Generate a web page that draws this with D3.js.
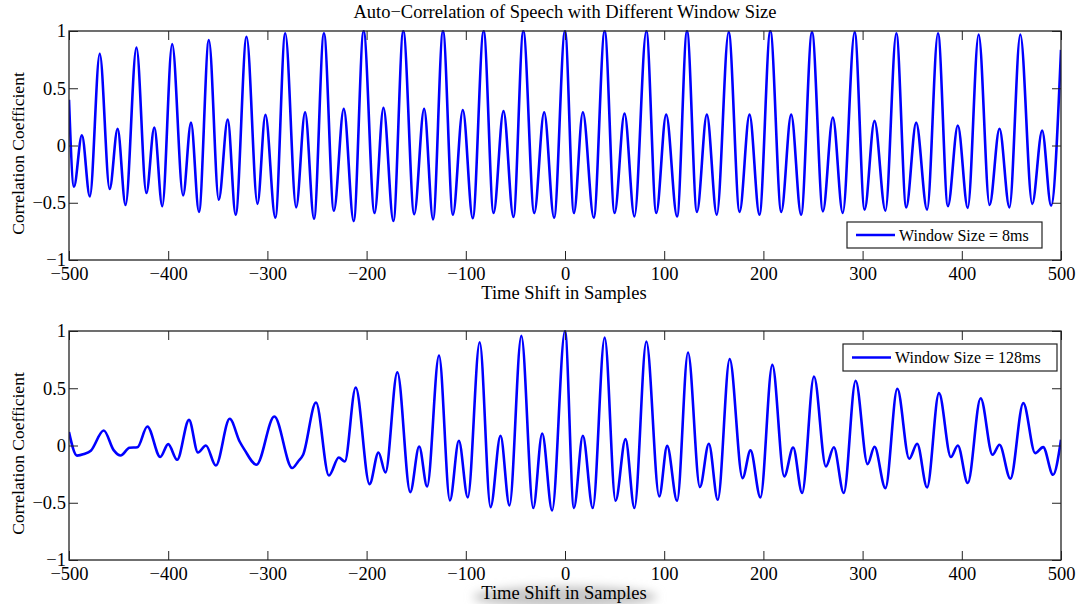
<!DOCTYPE html>
<html>
<head>
<meta charset="utf-8">
<script src="https://cdn.jsdelivr.net/npm/d3@7/dist/d3.min.js"></script>
<style>
  html, body { margin: 0; padding: 0; background: #fff; }
  svg { display: block; }
  text { font-family: "Liberation Serif", "Times New Roman", serif; fill: #000; }
</style>
</head>
<body>
<svg id="chart" width="1078" height="604"></svg>
<script>
// Autocorrelation extrema (lag in samples, correlation coefficient)
const lags8 = [-500,-495,-487,-479,-469,-459,-451,-443,-432,-422,-414,-406,-396,-385,-377,-369,
  -359,-349,-340,-332,-321,-310,-302,-292,-282,-271,-262,-253,-243,-233,-223,-213,-203,-192,-183,-173,
  -163,-152,-142,-133,-123,-113,-103,-93,-82,-72,-62,-52,-42,-31,-21,-11,0,9,18,29,40,50,60,70,
  82,92,102,113,123,133,143,153,165,176,186,196,207,218,228,238,249,260,270,280,292,302,312,323,
  334,344,354,365,376,386,396,406,417,428,438,448,459,471,481,490,500];
const vals8 = [0.40,-0.36,0.09,-0.445,0.80,-0.38,0.146,-0.52,0.855,-0.415,0.157,-0.53,0.885,-0.436,0.20,-0.58,
  0.92,-0.474,0.227,-0.605,0.95,-0.51,0.268,-0.63,0.98,-0.54,0.29,-0.64,0.98,-0.57,0.32,-0.66,1.0,-0.59,0.33,-0.66,
  1.0,-0.60,0.32,-0.645,1.0,-0.605,0.31,-0.635,1.0,-0.59,0.30,-0.625,1.0,-0.59,0.29,-0.63,1.0,-0.59,0.29,-0.63,
  1.0,-0.59,0.28,-0.62,1.0,-0.59,0.27,-0.62,1.0,-0.58,0.27,-0.605,0.99,-0.58,0.27,-0.605,1.0,-0.58,0.27,-0.605,
  0.99,-0.575,0.245,-0.59,0.99,-0.56,0.215,-0.57,0.98,-0.54,0.20,-0.56,0.98,-0.53,0.175,-0.545,0.97,-0.52,0.146,-0.54,
  0.97,-0.51,0.13,-0.525,0.835];

const lags128 = [-500,-492,-485,-478,-465,-455,-448,-439,-431,-421,-408,-400,-391,-379,-370,-362,-352,
  -338,-328,-323,-311,-293,-275,-269,-264,-251,-238,-228,-222,-211,-197,-188,-181,-169,-156,-147,-139,
  -127,-116,-107,-98,-86,-75,-65,-56,-44,-32,-23,-13,0,9,18,28,40,51,61,70,82,95,103,113,124,136,145,154,
  166,179,187,197,209,221,230,239,251,263,271,281,293,305,312,323,335,347,355,365,377,389,396,406,
  419,431,438,449,462,474,482,492,500];
const vals128 = [0.117,-0.088,-0.075,-0.045,0.131,-0.04,-0.087,-0.02,-0.015,0.166,-0.10,0.012,-0.125,0.224,-0.061,0.0,-0.175,
  0.233,0.035,-0.038,-0.168,0.253,-0.197,-0.14,-0.081,0.375,-0.262,-0.105,-0.14,0.506,-0.337,-0.061,-0.236,0.64,-0.407,-0.009,-0.358,
  0.785,-0.48,0.041,-0.454,0.902,-0.538,0.085,-0.524,0.957,-0.546,0.105,-0.567,1.0,-0.546,0.085,-0.546,0.942,-0.483,0.056,-0.546,
  0.908,-0.445,-0.003,-0.483,0.812,-0.363,0.015,-0.474,0.754,-0.285,-0.043,-0.454,0.704,-0.27,-0.017,-0.415,0.602,-0.183,-0.015,-0.415,
  0.565,-0.163,-0.011,-0.372,0.495,-0.116,0.015,-0.366,0.457,-0.101,0.0,-0.328,0.413,-0.081,0.006,-0.291,0.37,-0.067,-0.014,-0.256,0.05];

const xTicks = [-500,-400,-300,-200,-100,0,100,200,300,400,500];
const yTicks = [-1,-0.5,0,0.5,1];
const legendLabels = ["Window Size = 8ms", "Window Size = 128ms"];

const titleText = "Auto\u2212Correlation of Speech with Different Window Size";
const xLabel = "Time Shift in Samples";
const yLabel = "Correlation Coefficient";

const svg = d3.select("#chart");
svg.append("rect").attr("width", 1078).attr("height", 604).attr("fill", "#fff");

const defs = svg.append("defs");
defs.append("filter").attr("id", "soft").attr("x", "-50%").attr("y", "-50%").attr("width", "200%").attr("height", "200%")
  .append("feGaussianBlur").attr("stdDeviation", 5);

const fmt = d3.format("");
const left = 69, right = 1061;
const TICK = 9;
const FS = 18.5;      // axis text
const FS_LEG = 16;    // legend text

function panel(top, bottom, lags, vals, legend, idx) {
  const x = d3.scaleLinear().domain([-500, 500]).range([left, right]);
  const y = d3.scaleLinear().domain([-1, 1]).range([bottom, top]);
  const g = svg.append("g");

  const clipId = "clip" + idx;
  defs.append("clipPath").attr("id", clipId)
    .append("rect").attr("x", left).attr("y", top - 1).attr("width", right - left).attr("height", bottom - top + 2);

  const data = lags.map((l, i) => [l, vals[i]]);
  const line = d3.line().x(d => x(d[0])).y(d => y(d[1])).curve(d3.curveMonotoneX);
  g.append("path").datum(data)
    .attr("clip-path", `url(#${clipId})`)
    .attr("fill", "none").attr("stroke", "#0000ff").attr("stroke-width", 2.6)
    .attr("stroke-linejoin", "round").attr("d", line);

  // inward ticks on all four sides
  const axB = d3.axisBottom(x).tickValues(xTicks).tickSizeInner(-TICK).tickSizeOuter(0).tickFormat(fmt).tickPadding(7);
  const axT = d3.axisTop(x).tickValues(xTicks).tickSizeInner(-TICK).tickSizeOuter(0).tickFormat("");
  const axL = d3.axisLeft(y).tickValues(yTicks).tickSizeInner(-TICK).tickSizeOuter(0).tickFormat(fmt).tickPadding(3);
  const axR = d3.axisRight(y).tickValues(yTicks).tickSizeInner(-TICK).tickSizeOuter(0).tickFormat("");

  const styleAxis = sel => {
    sel.select(".domain").remove();
    sel.selectAll(".tick line").attr("stroke", "#222").attr("stroke-width", 1);
    sel.selectAll(".tick text").attr("font-size", FS).attr("fill", "#000");
  };
  g.append("g").attr("transform", `translate(0,${bottom})`).call(axB).call(styleAxis);
  g.append("g").attr("transform", `translate(0,${top})`).call(axT).call(styleAxis);
  g.append("g").attr("transform", `translate(${left},0)`).call(axL).call(styleAxis);
  g.append("g").attr("transform", `translate(${right},0)`).call(axR).call(styleAxis);

  g.append("rect").attr("x", left).attr("y", top).attr("width", right - left).attr("height", bottom - top)
    .attr("fill", "none").attr("stroke", "#222").attr("stroke-width", 1.3);

  g.append("text").attr("x", (left + right) / 2 - 1).attr("y", bottom + 39)
    .attr("text-anchor", "middle").attr("font-size", FS).text(xLabel);

  g.append("text").attr("transform", `translate(24,${(top + bottom) / 2 + 8}) rotate(-90)`)
    .attr("text-anchor", "middle").attr("font-size", 17.5).text(yLabel);

  // legend
  const lg = g.append("g").attr("transform", `translate(${legend.x},${legend.y})`);
  lg.append("rect").attr("width", legend.w).attr("height", legend.h)
    .attr("fill", "#fff").attr("stroke", "#222").attr("stroke-width", 1.2);
  lg.append("line").attr("x1", 9).attr("x2", 48).attr("y1", legend.h / 2).attr("y2", legend.h / 2)
    .attr("stroke", "#0000ff").attr("stroke-width", 2.6);
  lg.append("text").attr("x", 52).attr("y", legend.h / 2 + 5.5).attr("font-size", FS_LEG).text(legend.label);
  return g;
}

panel(31, 260, lags8, vals8, {x: 847, y: 222, w: 195, h: 26, label: legendLabels[0]}, 0);

// faint smudge behind the lower axis title
svg.append("ellipse").attr("cx", 565).attr("cy", 597).attr("rx", 92).attr("ry", 11)
  .attr("fill", "#c8c8c8").attr("filter", "url(#soft)");

panel(331, 560, lags128, vals128, {x: 843, y: 344, w: 214, h: 27, label: legendLabels[1]}, 1);

svg.append("text").attr("x", 565).attr("y", 18).attr("text-anchor", "middle")
  .attr("font-size", FS).text(titleText);
</script>
</body>
</html>
